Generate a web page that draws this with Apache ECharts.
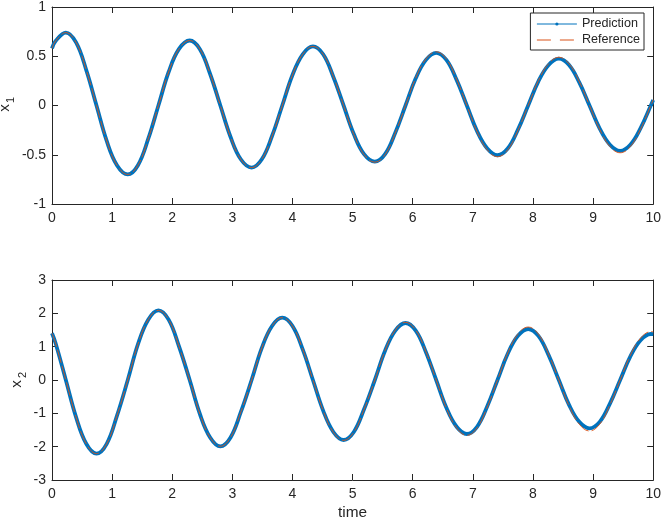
<!DOCTYPE html>
<html>
<head>
<meta charset="utf-8">
<script src="https://cdn.jsdelivr.net/npm/echarts@6/dist/echarts.min.js"></script>
<style>
  html, body { margin: 0; padding: 0; background: #fff; }
  #main { width: 664px; height: 521px; }
</style>
</head>
<body>
<div id="main"></div>
<script>
// sample times (shared by both panels)
var time = [0, 0.06, 0.23, 0.40, 0.57, 0.74, 0.91, 1.08, 1.26,
    1.43, 1.60, 1.77, 1.94, 2.11, 2.29,
    2.46, 2.63, 2.80, 2.97, 3.14, 3.32,
    3.49, 3.66, 3.83, 4.00, 4.17, 4.34,
    4.51, 4.68, 4.85, 5.02, 5.19, 5.37,
    5.54, 5.71, 5.88, 6.05, 6.22, 6.39,
    6.56, 6.73, 6.90, 7.07, 7.24, 7.41,
    7.58, 7.75, 7.92, 8.09, 8.26, 8.43,
    8.60, 8.77, 8.94, 9.11, 9.28, 9.45,
    9.62, 9.79, 9.96, 10];

// x1 panel
var x1Pred = [0.58, 0.655, 0.74, 0.64, 0.36, 0, -0.36, -0.606, -0.70,
    -0.606, -0.34, 0, 0.34, 0.572, 0.66,
    0.572, 0.32, 0, -0.32, -0.546, -0.63,
    -0.546, -0.31, 0, 0.31, 0.52, 0.60,
    0.52, 0.29, 0, -0.29, -0.494, -0.57,
    -0.494, -0.276, 0, 0.276, 0.463, 0.535,
    0.463, 0.26, 0, -0.26, -0.437, -0.505,
    -0.437, -0.245, 0, 0.245, 0.411, 0.475,
    0.411, 0.234, 0, -0.234, -0.398, -0.46,
    -0.398, -0.23, 0, 0.055];
var x1Ref = [0.58, 0.655, 0.74, 0.64, 0.36, 0, -0.36, -0.606, -0.70,
    -0.606, -0.34, 0, 0.34, 0.572, 0.66,
    0.572, 0.32, 0, -0.32, -0.546, -0.63,
    -0.546, -0.31, 0, 0.31, 0.52, 0.60,
    0.52, 0.294, 0, -0.294, -0.498, -0.575,
    -0.498, -0.28, 0, 0.28, 0.472, 0.545,
    0.472, 0.266, 0, -0.266, -0.45, -0.52,
    -0.45, -0.253, 0, 0.253, 0.424, 0.49,
    0.424, 0.243, 0, -0.243, -0.416, -0.48,
    -0.416, -0.24, 0, 0.058];

// x2 panel
var x2Pred = [1.40, 1.10, 0, -1.115, -1.914, -2.21, -1.914, -1.075, 0,
    1.075, 1.81, 2.09, 1.81, 1.02, 0,
    -1.02, -1.723, -1.99, -1.723, -0.965, 0,
    0.965, 1.62, 1.87, 1.62, 0.918, 0,
    -0.918, -1.559, -1.80, -1.559, -0.878, 0,
    0.878, 1.481, 1.71, 1.481, 0.833, 0,
    -0.833, -1.403, -1.62, -1.403, -0.788, 0,
    0.788, 1.325, 1.53, 1.325, 0.745, 0,
    -0.745, -1.256, -1.45, -1.256, -0.708, 0,
    0.708, 1.195, 1.38, 1.378];
var x2Ref = [1.40, 1.10, 0, -1.115, -1.914, -2.21, -1.914, -1.075, 0,
    1.075, 1.81, 2.09, 1.81, 1.02, 0,
    -1.02, -1.723, -1.99, -1.723, -0.965, 0,
    0.965, 1.62, 1.87, 1.62, 0.92, 0,
    -0.92, -1.567, -1.81, -1.567, -0.885, 0,
    0.885, 1.498, 1.73, 1.498, 0.845, 0,
    -0.845, -1.437, -1.66, -1.437, -0.81, 0,
    0.81, 1.377, 1.59, 1.377, 0.775, 0,
    -0.775, -1.325, -1.53, -1.325, -0.745, 0,
    0.745, 1.255, 1.45, 1.448];

var xTicks = [0, 1, 2, 3, 4, 5, 6, 7, 8, 9, 10];
var y1Ticks = [-1, -0.5, 0, 0.5, 1];
var y2Ticks = [-3, -2, -1, 0, 1, 2, 3];

var axisColor = '#262626';
var font = '"Liberation Sans", Arial, Helvetica, sans-serif';
var blue = '#0072BD';
var orange = '#D95319';

function pairs(ys) {
    return time.map(function(t, i) {
        return [t, ys[i]];
    });
}

function makeAxis(ticks, grid, pos, showLabel, name) {
    return {
        type: 'value',
        gridIndex: grid,
        position: pos,
        min: ticks[0],
        max: ticks[ticks.length - 1],
        interval: ticks[1] - ticks[0],
        name: name || '',
        nameLocation: 'middle',
        nameGap: 25,
        nameTextStyle: { color: axisColor, fontSize: 15.4, fontFamily: font },
        axisLine: { show: true, onZero: false, lineStyle: { color: axisColor, width: 1 } },
        axisTick: { show: true, inside: true, length: 6, lineStyle: { color: axisColor } },
        axisLabel: {
            show: showLabel,
            margin: (pos == 'bottom') ? 7 : 6,
            color: axisColor,
            fontSize: 14,
            fontFamily: font
        },
        splitLine: { show: false }
    };
}

function lineSeries(name, ys, grid) {
    var s = {
        name: name,
        type: 'line',
        xAxisIndex: grid * 2,
        yAxisIndex: grid * 2,
        data: pairs(ys),
        smooth: 0.4,
        showSymbol: false,
        symbol: 'circle',
        symbolSize: 4
    };
    if (name == 'Prediction') {
        s.lineStyle = { color: blue, width: 3.8 };
        s.itemStyle = { color: blue };
        s.z = 2;
    } else {
        s.lineStyle = { color: orange, width: 0.9, type: [14, 3] };
        s.itemStyle = { color: orange };
        s.z = 3;
    }
    return s;
}

var chart = echarts.init(document.getElementById('main'), null, { renderer: 'canvas' });

var option = {
    animation: false,
    backgroundColor: '#fff',
    grid: [
        { left: 52, top: 5, width: 605, height: 199 },
        { left: 52, top: 280, width: 605, height: 200 }
    ],
    xAxis: [
        makeAxis(xTicks, 0, 'bottom', true),
        makeAxis(xTicks, 0, 'top', false),
        makeAxis(xTicks, 1, 'bottom', true, 'time'),
        makeAxis(xTicks, 1, 'top', false)
    ],
    yAxis: [
        makeAxis(y1Ticks, 0, 'left', true),
        makeAxis(y1Ticks, 0, 'right', false),
        makeAxis(y2Ticks, 1, 'left', true),
        makeAxis(y2Ticks, 1, 'right', false)
    ],
    legend: {
        orient: 'vertical',
        right: 20,
        top: 13,
        backgroundColor: '#fff',
        borderColor: axisColor,
        borderWidth: 1,
        borderRadius: 0,
        padding: [3, 4, 2, 6],
        itemWidth: 40,
        itemHeight: 4,
        itemGap: 0,
        lineStyle: { width: 1 },
        textStyle: { color: axisColor, fontSize: 12.6, lineHeight: 16, fontFamily: font },
        data: [
            { name: 'Prediction' },
            { name: 'Reference', itemStyle: { opacity: 0 }, lineStyle: { type: [14, 9] } }
        ]
    },
    // y axis titles with subscripts
    graphic: [
        { type: 'text', x: 5, y: 108, rotation: Math.PI / 2,
          style: { text: 'x', fontSize: 15.4, fontFamily: font, fill: axisColor, align: 'center', verticalAlign: 'middle' } },
        { type: 'text', x: 11, y: 100, rotation: Math.PI / 2,
          style: { text: '1', fontSize: 11, fontFamily: font, fill: axisColor, align: 'center', verticalAlign: 'middle' } },
        { type: 'text', x: 17, y: 384, rotation: Math.PI / 2,
          style: { text: 'x', fontSize: 15.4, fontFamily: font, fill: axisColor, align: 'center', verticalAlign: 'middle' } },
        { type: 'text', x: 23, y: 375, rotation: Math.PI / 2,
          style: { text: '2', fontSize: 11, fontFamily: font, fill: axisColor, align: 'center', verticalAlign: 'middle' } }
    ],
    series: [
        lineSeries('Prediction', x1Pred, 0),
        lineSeries('Reference', x1Ref, 0),
        lineSeries('Prediction', x2Pred, 1),
        lineSeries('Reference', x2Ref, 1)
    ]
};

chart.setOption(option);
</script>
</body>
</html>
